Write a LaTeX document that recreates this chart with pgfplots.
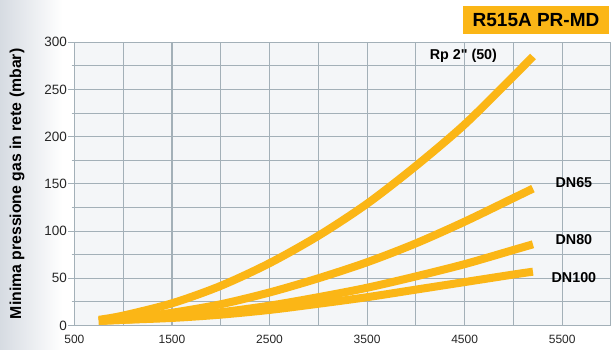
\documentclass[border=0pt]{standalone}
\usepackage{fontspec}
\setmainfont{Liberation Sans}
\newfontfamily\plainsans{Liberation Sans}[Ligatures=TeXOff]
\usepackage{pgfplots}
\pgfplotsset{compat=1.18}
\definecolor{curve}{HTML}{FBB616}
\definecolor{gridc}{HTML}{A3B0B8}
\definecolor{plotbg}{HTML}{F4F6F8}
\definecolor{leftbg}{HTML}{D6DBE2}

\begin{document}
\begin{tikzpicture}
\useasboundingbox (-74.4pt,-24.5pt) rectangle (536.6pt,325.5pt);
\fill[white] (-74.4pt,-24.5pt) rectangle (536.6pt,325.5pt);
\shade[left color=leftbg, right color=white] (-74.4pt,-24.5pt) rectangle (-12pt,325.5pt);

\begin{axis}[
    at={(0,0)}, anchor=south west,
    scale only axis,
    width=536.6pt, height=283.2pt,
    xmin=500, xmax=6000,
    ymin=0, ymax=300,
    xtick={500,1500,...,5500},
    minor xtick={1000,2000,...,6000},
    ytick={0,50,...,300},
    minor ytick={25,75,...,275},
    grid=both,
    major grid style={gridc, line width=1.1pt},
    minor grid style={gridc, line width=1.1pt},
    axis background/.style={fill=plotbg},
    axis line style={gridc, line width=1.1pt},
    xtick style={draw=none},
    ytick style={gridc, line width=1.1pt},
    tick align=outside,
    major tick length=6pt,
    /pgf/number format/assume math mode=true,
    /pgf/number format/1000 sep={},
    yticklabel style={font=\fontsize{13.5}{15}\selectfont, text=black!85, xshift=2pt},
    xticklabel style={font=\fontsize{12}{14}\selectfont, text=black!85},
    ylabel={Minima pressione gas in rete (mbar)},
    ylabel style={font=\bfseries\fontsize{15.8}{17}\selectfont,
        at={(axis description cs:-0.107,0.5)}, anchor=center},
]

% Rp 2" (50)
\addplot[curve, line width=8pt, smooth] coordinates {
    (750,6) (1000,10.5) (1500,23.5) (2000,42) (2500,66) (3000,95)
    (3500,129) (4000,169) (4500,213) (5000,264) (5200,285)
};
% DN65
\addplot[curve, line width=8pt, smooth] coordinates {
    (750,5) (1000,7) (1500,13.5) (2000,22.5) (2500,35) (3000,50)
    (3500,67) (4000,87) (4500,110) (5000,135) (5200,145)
};
% DN80
\addplot[curve, line width=8pt, smooth] coordinates {
    (750,5) (1000,6) (1500,9) (2000,14) (2500,21) (3000,30)
    (3500,40) (4000,52) (4500,65) (5000,80) (5200,86)
};
% DN100
\addplot[curve, line width=8pt, smooth] coordinates {
    (750,5) (1000,6) (1500,8) (2000,11.5) (2500,16.5) (3000,23)
    (3500,30) (4000,38) (4500,46) (5000,54) (5200,57)
};

\node[font=\plainsans\bfseries\fontsize{14.3}{16}\selectfont] at (axis cs:4487,285.5) {Rp 2" (50)};
\node[font=\bfseries\fontsize{14.3}{16}\selectfont] at (axis cs:5620,151) {DN65};
\node[font=\bfseries\fontsize{14.3}{16}\selectfont] at (axis cs:5620,91) {DN80};
\node[font=\bfseries\fontsize{14.3}{16}\selectfont] at (axis cs:5620,50.5) {DN100};
\end{axis}

\node[fill=curve, minimum width=146pt, minimum height=28pt, inner sep=0pt,
      font=\bfseries\fontsize{19}{21}\selectfont] at (461.6pt,305.5pt) {R515A PR-MD};
\end{tikzpicture}
\end{document}
